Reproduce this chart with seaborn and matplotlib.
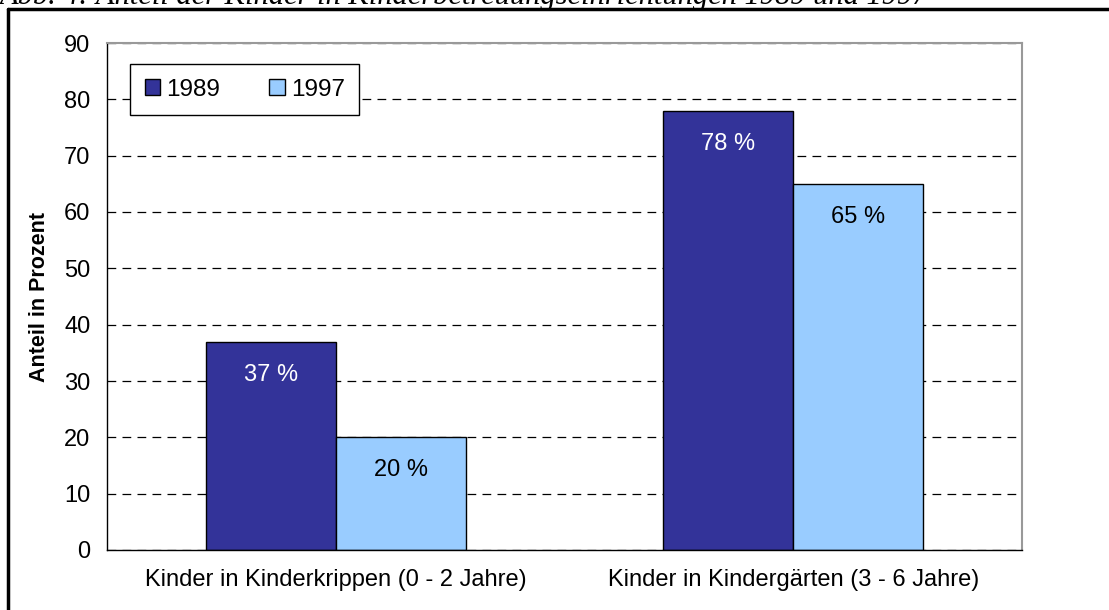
import matplotlib
matplotlib.use("Agg")
import matplotlib.pyplot as plt
import seaborn as sns
import pandas as pd
from matplotlib.lines import Line2D
from matplotlib.patches import Patch

categories = ["Kinder in Kinderkrippen (0 - 2 Jahre)", "Kinder in Kindergärten (3 - 6 Jahre)"]
years = ["1989", "1997"]
values_1989 = [37, 78]
values_1997 = [20, 65]
yticks = [0, 10, 20, 30, 40, 50, 60, 70, 80, 90]
colors = ["#333399", "#99CCFF"]
caption = "Abb. 4: Anteil der Kinder in Kinderbetreuungseinrichtungen 1989 und 1997"

df = pd.DataFrame({
    "cat": categories * 2,
    "year": [years[0]] * 2 + [years[1]] * 2,
    "val": values_1989 + values_1997,
})

sns.set_style("white")
plt.rcParams["font.family"] = ["Liberation Sans", "DejaVu Sans"]
plt.rcParams["text.color"] = "black"
plt.rcParams["axes.labelcolor"] = "black"
plt.rcParams["xtick.color"] = "black"
plt.rcParams["ytick.color"] = "black"
plt.rcParams["xtick.labelcolor"] = "black"
plt.rcParams["ytick.labelcolor"] = "black"

fig = plt.figure(figsize=(11.09, 6.10), dpi=100)
ax = fig.add_axes([107/1109, 1 - 550/610, 915/1109, 507/610])

sns.barplot(data=df, x="cat", y="val", hue="year", palette=colors,
            edgecolor="black", linewidth=1, width=0.568, ax=ax,
            legend=False, saturation=1)

ax.set_ylim(0, 90)
ax.set_xlim(-0.5, 1.5)
ax.set_yticks(yticks)
ax.set_yticklabels([str(t) for t in yticks], fontsize=17, color="black")
ax.yaxis.grid(True, linestyle=(0, (7, 5)), color="black", linewidth=0.9)
ax.set_axisbelow(True)

ax.set_xticks([0, 1])
ax.set_xticklabels(categories, fontsize=17, color="black")
ax.tick_params(axis="x", which="major", length=0, pad=14)
ax.set_xticks([-0.5, 0.5, 1.5], minor=True)
ax.tick_params(axis="x", which="minor", length=6, direction="out", color="black")
ax.tick_params(axis="y", length=7, direction="out", color="black", pad=5)

ax.set_xlabel("")
ax.set_ylabel("Anteil in Prozent", fontsize=15.5, fontweight="bold", labelpad=10,
              color="black")

for s in ["left", "bottom"]:
    ax.spines[s].set_color("black")
    ax.spines[s].set_linewidth(1)
for s in ["top", "right"]:
    ax.spines[s].set_color("#999999")
    ax.spines[s].set_linewidth(1.5)

for ci, container in enumerate(ax.containers):
    txtcol = "white" if ci == 0 else "black"
    for bar in container:
        h = bar.get_height()
        ax.annotate(f"{int(round(h))} %", xy=(bar.get_x() + bar.get_width() / 2, h),
                    xytext=(0, -33), textcoords="offset pixels",
                    ha="center", va="center", fontsize=17, color=txtcol)

handles = [Patch(facecolor=colors[i], edgecolor="black", linewidth=1) for i in range(2)]
leg = ax.legend(handles, years, loc="upper left", bbox_to_anchor=(23/915, 1 - 21/507),
                borderaxespad=0, ncol=2, fontsize=17.5, frameon=True, fancybox=False,
                edgecolor="black", handlelength=0.65, handleheight=0.65,
                handletextpad=0.25, columnspacing=2.0, borderpad=0.6, framealpha=1)
leg.get_frame().set_linewidth(1)
for t in leg.get_texts():
    t.set_color("black")

# outer frame
fig.add_artist(Line2D([8/1109, 8/1109], [0, 1 - 9/610], transform=fig.transFigure,
                      color="black", linewidth=2.5))
fig.add_artist(Line2D([8/1109, 1], [1 - 9/610, 1 - 9/610], transform=fig.transFigure,
                      color="black", linewidth=2.5))
fig.text(0.0, 1 - 4/610, caption, fontsize=22, fontstyle="italic",
         family=["Liberation Serif", "DejaVu Serif"], va="baseline", ha="left")

fig.savefig("out.png", dpi=100)
